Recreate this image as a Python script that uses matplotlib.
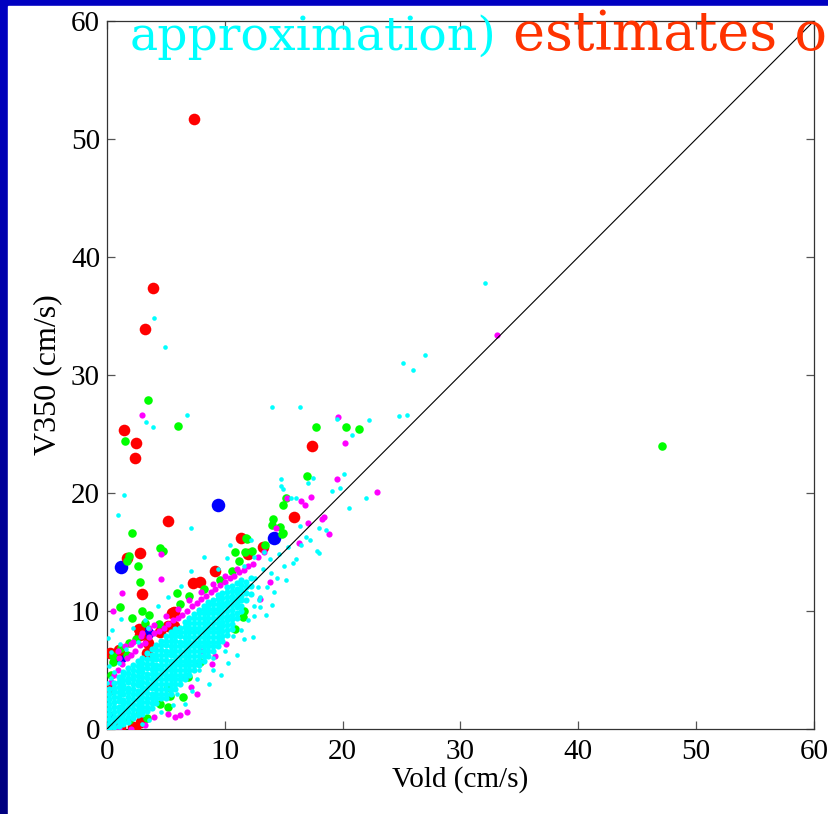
import matplotlib
matplotlib.use("Agg")
import matplotlib.pyplot as plt
import numpy as np
from matplotlib.patches import Rectangle

# ---------------------------------------------------------------- data
# large red markers
red_x = [7.4, 3.87, 3.25, 1.41, 2.46, 2.35, 17.4, 5.17, 15.9, 11.4, 2.77, 1.67,
         12.0, 13.2, 9.15, 7.3, 7.9, 3.0, 5.68, 5.5, 2.74, 2.8, 5.2, 5.7, 4.5,
         3.45, 1.02, 0.25, 0.25, 3.4, 1.1, 2.2, 2.37, 0.8, 2.9]
red_y = [51.7, 37.4, 33.9, 25.3, 24.2, 23.0, 24.0, 17.6, 18.0, 16.2, 14.9, 14.5,
         14.8, 15.4, 13.4, 12.35, 12.5, 11.4, 9.94, 9.86, 8.5, 8.0, 8.7, 8.7, 8.25,
         7.3, 6.7, 3.4, 6.4, 6.4, 0.2, 0.2, 0.1, 0.1, 0.6]

green_x = [3.45, 6.04, 1.53, 17.7, 20.3, 21.4, 47.1, 17.0, 15.2, 14.9, 14.1, 14.04,
           14.7, 14.86, 11.9, 2.09, 1.89, 1.67, 2.66, 4.5, 4.77, 11.8, 10.9, 11.75,
           14.9, 2.8, 5.96, 1.1, 2.94, 3.6, 11.6, 10.85, 0.5, 1.67, 7.9, 5.2, 5.34,
           4.5, 5.2, 6.47, 2.8, 3.4, 1.9, 6.9, 11.55, 1.2, 1.9, 2.5, 4.4, 6.2, 7.0,
           8.2, 9.6, 10.6, 11.2, 12.3, 13.4, 0.3, 0.54, 3.2, 2.1]
green_y = [27.9, 25.7, 24.4, 25.6, 25.6, 25.4, 23.96, 21.4, 19.6, 19.0, 17.8, 17.3,
           17.1, 16.5, 16.1, 16.6, 14.7, 14.2, 13.8, 15.3, 15.1, 16.2, 15.0, 15.0,
           16.6, 12.5, 11.5, 10.3, 10.0, 9.7, 10.0, 8.5, 6.2, 6.3, 5.7, 3.6, 2.8,
           2.1, 1.9, 2.74, 1.4, 0.9, 0.8, 4.4, 9.45, 6.9, 7.3, 7.6, 8.9, 10.6, 11.3,
           11.9, 12.6, 13.4, 14.2, 15.1, 15.6, 4.6, 5.7, 9.0, 9.4]

blue_x = [9.44, 1.16, 14.15, 3.36, -0.05, 1.1]
blue_y = [19.0, 13.75, 16.15, 8.1, 1.1, 6.1]

magenta_x = [2.94, 19.6, 20.2, 33.1, 22.9, 19.55, 15.3, 16.5, 16.8, 17.3, 17.06,
             18.4, 18.25, 18.85, 14.3, 16.3, 4.55, 4.55, 1.3, 0.48,
             0.3, 0.6, 0.9, 1.3, 1.7, 2.0, 2.4, 2.8, 3.2, 3.6, 4.0, 4.4, 4.8, 5.2,
             5.6, 6.0, 6.4, 6.8, 7.2, 7.6, 8.0, 8.4, 8.8, 9.2, 9.6, 10.0, 10.4, 10.8,
             11.2, 11.6, 12.0, 12.4, 1.0, 2.0, 3.0, 4.0, 5.0, 6.0, 7.0, 8.0, 9.0,
             10.0, 11.0, 12.8, 13.3,
             6.2, 5.2, 6.6, 7.1, 8.9, 8.0, 4.0, 3.2, 2.0, 1.0, 6.8, 5.8, 7.6, 9.2,
             10.1, 2.23, 2.9, 3.6, 1.5, 0.9, 13.0, 13.8]
magenta_y = [26.6, 26.4, 24.2, 33.4, 20.05, 21.15, 19.6, 19.35, 18.95, 19.7, 17.5,
             18.0, 17.8, 16.5, 17.0, 15.8, 14.8, 12.7, 11.5, 10.0,
             4.0, 4.6, 5.0, 5.5, 6.0, 6.3, 6.6, 7.1, 7.3, 7.8, 8.1, 8.3, 8.6, 8.9,
             9.2, 9.4, 9.7, 10.0, 10.4, 10.7, 11.0, 11.3, 11.6, 11.9, 12.2, 12.5,
             12.8, 13.0, 13.3, 13.5, 13.8, 14.0, 6.0, 7.2, 8.1, 8.8, 9.6, 10.2,
             10.9, 11.6, 12.3, 13.0, 13.6, 14.6, 15.0,
             1.2, 1.3, 4.3, 3.6, 5.5, 6.6, 1.0, 0.3, 0.0, 0.1, 1.4, 1.0, 3.0, 6.2,
             7.2, 7.4, 7.9, 8.6, 7.0, 6.6, 11.0, 12.5]

# cyan: dense core, one column of y values per x position
cyan_core_x = [0.2, 0.6, 1.0, 1.4, 1.8, 2.2, 2.6, 3.0, 3.4, 3.8, 4.2, 4.6, 5.0, 5.4,
               5.8, 6.2, 6.6, 7.0, 7.4, 7.8, 8.2, 8.6, 9.0, 9.4, 9.8, 10.2, 10.6,
               11.0, 11.4, 11.8, 12.2]
cyan_core_y = [
    [0.05, 0.45, 0.85, 1.3, 1.7, 2.1, 2.55, 2.95, 3.35],
    [0.2, 0.6, 1.05, 1.45, 1.9, 2.3, 2.7, 3.1, 3.5, 3.9],
    [0.25, 0.65, 1.1, 1.5, 1.9, 2.35, 2.75, 3.15, 3.6, 4.0, 4.4],
    [0.45, 0.85, 1.25, 1.7, 2.1, 2.5, 2.95, 3.35, 3.75, 4.15, 4.6, 4.85],
    [0.6, 1.05, 1.45, 1.85, 2.3, 2.7, 3.1, 3.5, 3.95, 4.35, 4.75, 5.2],
    [0.9, 1.3, 1.7, 2.15, 2.55, 2.95, 3.35, 3.8, 4.2, 4.6, 5.0, 5.45],
    [1.2, 1.6, 2.0, 2.45, 2.85, 3.25, 3.7, 4.1, 4.5, 4.9, 5.35, 5.8],
    [1.3, 1.5, 1.9, 2.3, 2.75, 3.15, 3.55, 3.95, 4.4, 4.8, 5.2, 5.6, 6.05],
    [1.5, 1.85, 2.25, 2.65, 3.05, 3.5, 3.9, 4.3, 4.7, 5.15, 5.55, 5.95, 6.4],
    [1.8, 2.2, 2.6, 3.0, 3.45, 3.85, 4.25, 4.65, 5.1, 5.5, 5.9, 6.3, 6.75],
    [2.2, 2.6, 3.0, 3.4, 3.8, 4.25, 4.65, 5.05, 5.45, 5.9, 6.3, 6.7, 7.1],
    [2.6, 3.0, 3.4, 3.8, 4.2, 4.65, 5.05, 5.45, 5.85, 6.3, 6.7, 7.1, 7.5],
    [2.6, 3.0, 3.4, 3.8, 4.2, 4.6, 5.0, 5.45, 5.85, 6.25, 6.65, 7.1, 7.5, 7.85],
    [3.0, 3.4, 3.8, 4.2, 4.6, 5.0, 5.4, 5.8, 6.25, 6.65, 7.05, 7.45, 7.85, 8.2],
    [3.4, 3.8, 4.2, 4.6, 5.0, 5.4, 5.8, 6.2, 6.6, 7.05, 7.45, 7.85, 8.25, 8.5],
    [3.8, 4.2, 4.6, 5.0, 5.4, 5.8, 6.2, 6.6, 7.0, 7.4, 7.85, 8.25, 8.6],
    [4.2, 4.6, 5.0, 5.4, 5.8, 6.2, 6.6, 7.0, 7.4, 7.8, 8.2, 8.65, 9.05],
    [4.6, 5.0, 5.4, 5.8, 6.2, 6.6, 7.0, 7.4, 7.8, 8.2, 8.6, 9.0, 9.4],
    [5.0, 5.4, 5.8, 6.2, 6.6, 7.0, 7.4, 7.8, 8.2, 8.6, 9.0, 9.4, 9.75],
    [5.4, 5.8, 6.2, 6.6, 7.0, 7.4, 7.8, 8.2, 8.6, 9.0, 9.4, 9.8, 10.1],
    [5.8, 6.2, 6.6, 7.0, 7.4, 7.8, 8.2, 8.6, 9.0, 9.4, 9.8, 10.15, 10.4],
    [6.2, 6.6, 7.0, 7.4, 7.8, 8.2, 8.6, 9.0, 9.4, 9.8, 10.2, 10.55, 10.8],
    [6.6, 7.0, 7.4, 7.8, 8.2, 8.6, 9.0, 9.4, 9.8, 10.2, 10.6, 10.95],
    [7.0, 7.4, 7.8, 8.2, 8.6, 9.0, 9.4, 9.8, 10.2, 10.6, 11.0, 11.35],
    [7.5, 7.9, 8.3, 8.7, 9.1, 9.5, 9.9, 10.3, 10.7, 11.1, 11.5],
    [8.0, 8.4, 8.8, 9.2, 9.6, 10.0, 10.4, 10.8, 11.2, 11.6, 12.0],
    [8.5, 8.9, 9.3, 9.7, 10.1, 10.5, 10.9, 11.3, 11.7, 12.1],
    [9.4, 9.8, 10.3, 10.7, 11.1, 11.5, 11.9, 12.35],
    [10.0, 10.4, 10.9, 11.3, 11.75, 12.2, 12.6],
    [10.9, 11.5, 12.0, 12.5],
    [11.4, 12.1, 12.8],
]

# cyan: scattered points outside the core
cyan_x = [32.1, 26.0, 25.1, 27.0, 24.8, 22.2, 16.4, 14.0, 6.8, 3.96, 4.94, 3.3, 3.87,
          1.47, 0.93, 7.1, 19.55, 20.8, 17.5, 17.1, 20.1, 19.1, 19.8, 14.8, 14.8,
          14.9, 15.6, 16.0, 18.0, 17.8, 17.96, 16.9, 16.4,
          8.64, 8.96, 11.05, 11.6, 12.4, 13.5, 12.5, 13.0, 12.5, 14.4, 9.7, 10.3,
          7.2, 6.6, 4.6, 3.6, 3.0, 5.6, 7.6, 10.0, 11.4, 12.0, 13.0, 13.6, 14.2,
          15.0, 15.2, 16.0, 16.5, 13.9, 12.8, 12.6, 13.2, 13.8, 14.6, 15.4,
          0.3, 0.2, 0.6, 0.3, 0.1, 0.4, 1.1, 2.2, 1.2, 3.2, 4.3, 5.2, 6.3, 7.1,
          8.2, 9.4, 10.4, 10.2, 11.6, 12.5, 13.3, 12.2, 1.0, 1.6, 2.6, 3.5, 0.0,
          5.9, 7.8, 9.0, 10.7, 12.9, 14.0, 15.8, 17.2, 18.6, 20.5, 22.0, 25.5]
cyan_y = [37.8, 30.45, 31.0, 31.7, 26.5, 26.2, 27.3, 27.3, 26.6, 34.8, 32.4, 26.0,
          25.6, 19.8, 18.1, 17.06, 26.3, 24.9, 21.3, 20.85, 21.6, 20.2, 20.4, 21.2,
          20.6, 20.3, 19.6, 19.6, 17.0, 15.1, 14.94, 16.3, 17.2,
          3.8, 5.0, 6.25, 7.6, 7.77, 9.66, 10.4, 10.3, 9.6, 12.8, 4.6, 5.6,
          3.2, 2.1, 1.4, 0.8, 0.4, 2.0, 4.2, 6.6, 8.4, 9.2, 11.2, 12.0, 11.6,
          13.8, 12.6, 14.4, 15.6, 13.2, 12.0, 12.8, 13.6, 14.4, 14.8, 15.4,
          4.3, 5.3, 4.8, 6.5, 7.7, 8.4, 7.2, 8.6, 9.3, 9.2, 10.4, 11.2, 12.1, 13.4,
          14.6, 13.6, 15.6, 14.5, 13.8, 14.6, 15.0, 16.0, 5.6, 6.8, 7.4, 8.6, 3.9,
          3.0, 5.0, 6.0, 7.9, 10.9, 10.5, 14.1, 16.0, 16.9, 18.7, 19.6, 26.6]

tick_vals = [0, 10, 20, 30, 40, 50, 60]
title_cyan = "approximation)"
title_red = "estimates o"

# ---------------------------------------------------------------- figure
W, H = 829, 814
fig = plt.figure(figsize=(W / 100, H / 100), dpi=100)

# blue slide frame (darker toward the bottom) with a white panel on top
bg = fig.add_axes([0, 0, 1, 1], zorder=-10)
grad = np.linspace(0.76, 0.50, 256).reshape(-1, 1)
rgb = np.zeros((256, 1, 3))
rgb[..., 2] = grad
bg.imshow(rgb, aspect="auto", extent=(0, 1, 0, 1))
bg.add_patch(Rectangle((8 / W, 0), 1 - 8 / W, 1 - 6 / H, color="white",
                       transform=bg.transAxes))
bg.axis("off")

ax = fig.add_axes([107 / W, 1 - 729 / H, 707 / W, 708 / H])

S_CORE, S_CYAN, S_MAG, S_GREEN, S_RED, S_BLUE = 20, 11, 20, 38, 70, 95

ax.scatter(blue_x, blue_y, s=S_BLUE, color="#0000FF", linewidths=0, zorder=2)
ax.scatter(red_x, red_y, s=S_RED, color="#FF0000", linewidths=0, zorder=3)
ax.scatter(green_x, green_y, s=S_GREEN, color="#00FF00", linewidths=0, zorder=4)
ax.scatter(magenta_x, magenta_y, s=S_MAG, color="#FF00FF", linewidths=0, zorder=5)

core_x = [x for x, ys in zip(cyan_core_x, cyan_core_y) for _ in ys]
core_y = [y for ys in cyan_core_y for y in ys]
ax.scatter(core_x, core_y, s=S_CORE, color="#00FFFF", linewidths=0, zorder=6)
ax.scatter(cyan_x, cyan_y, s=S_CYAN, color="#00FFFF", linewidths=0, zorder=6)

ax.plot([0, 60], [0, 60], color="black", linewidth=0.8, zorder=7)

ax.set_xlim(0, 60)
ax.set_ylim(0, 60)
ax.set_xticks(tick_vals)
ax.set_yticks(tick_vals)
for sp in ax.spines.values():
    sp.set_color("#333333")
    sp.set_linewidth(0.9)
ax.tick_params(direction="in", length=6, width=0.9, color="#555555",
               top=True, right=True, labelsize=21)
ax.tick_params(axis="x", pad=7)
ax.tick_params(axis="y", pad=5)
for lab in ax.get_xticklabels() + ax.get_yticklabels():
    lab.set_family("Liberation Serif")

ax.set_xlabel("Vold (cm/s)", fontsize=21, family="Liberation Serif", labelpad=1)
ax.set_ylabel("V350 (cm/s)", fontsize=23, family="Liberation Serif", labelpad=6)

# slide title, cut off at the right edge of the frame
fig.text(130 / W, 1 - 50 / H, title_cyan, color="#00FFFF", fontsize=34,
         family="DejaVu Serif", va="baseline", ha="left")
fig.text(513 / W, 1 - 50 / H, title_red, color="#FF3300", fontsize=39,
         family="DejaVu Serif", va="baseline", ha="left")

fig.savefig("out.png", dpi=100)
